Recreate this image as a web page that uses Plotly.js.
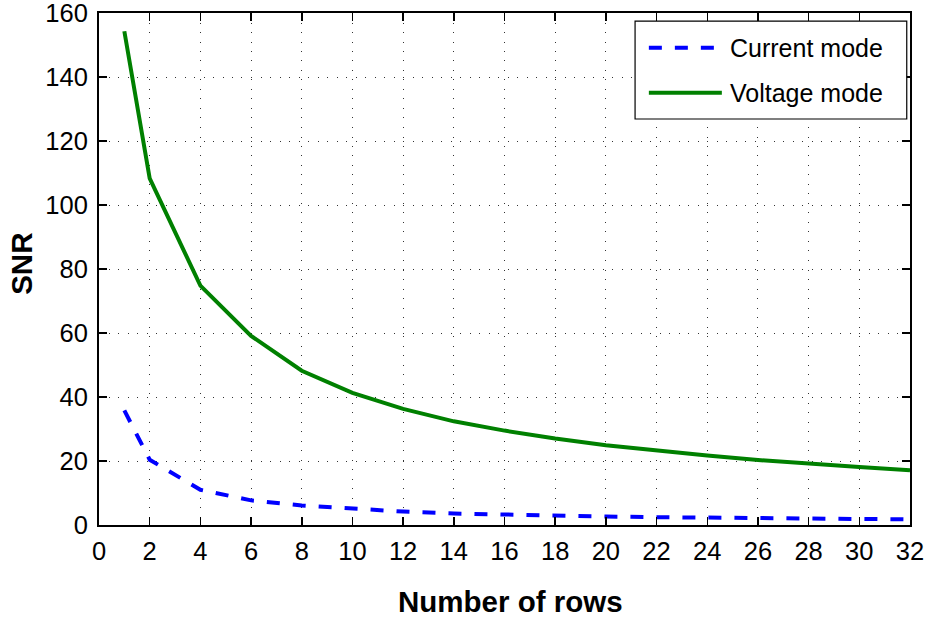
<!DOCTYPE html>
<html>
<head>
<meta charset="utf-8">
<script src="https://cdn.plot.ly/plotly-3.0.1.min.js"></script>
<style>html,body{margin:0;padding:0;background:#fff;}#chart{width:926px;height:619px;}</style>
</head>
<body>
<div id="chart"></div>
<script>
const rows = [1, 2, 4, 6, 8, 10, 12, 14, 16, 18, 20, 22, 24, 26, 28, 30, 32];
const currentMode = [35.8, 20.4, 11.0, 7.7, 6.1, 5.0, 4.2, 3.6, 3.2, 2.9, 2.65, 2.45, 2.25, 2.1, 1.95, 1.85, 1.75];
const voltageMode = [154.3, 108.3, 74.8, 59.1, 48.2, 41.3, 36.3, 32.4, 29.5, 27.0, 24.9, 23.2, 21.7, 20.3, 19.1, 18.1, 17.1];
const xTicks = [0,2,4,6,8,10,12,14,16,18,20,22,24,26,28,30,32];
const yTicks = [0,20,40,60,80,100,120,140,160];
const seriesNames = ['Current mode', 'Voltage mode'];
const xTitle = 'Number of rows';
const yTitle = 'SNR';

const FONT = 'Liberation Sans, Arial, sans-serif';
const traces = [
  {x: rows, y: currentMode, name: seriesNames[0], type: 'scatter', mode: 'lines',
   line: {color: '#0000ff', width: 4, dash: '13px,13px'}},
  {x: rows, y: voltageMode, name: seriesNames[1], type: 'scatter', mode: 'lines',
   line: {color: '#008000', width: 4}}
];
const axisCommon = {
  showline: true, linecolor: '#000', linewidth: 2, mirror: 'ticks',
  ticks: 'inside', ticklen: 8, tickwidth: 1.5, tickcolor: '#000',
  showgrid: true, gridcolor: '#333', gridwidth: 1, griddash: '1px,8.5px',
  zeroline: false, ticklabeloverflow: 'allow',
  tickfont: {family: FONT, size: 25.5, color: '#000'}
};
// custom legend (paper coordinates)
const legX0 = 0.661, legX1 = 0.996, legY0 = 0.793, legY1 = 0.984;
const rowY = [0.932, 0.844];
const shapes = [
  {type: 'rect', xref: 'paper', yref: 'paper', x0: legX0, x1: legX1, y0: legY0, y1: legY1,
   line: {color: '#000', width: 1.2}, fillcolor: '#fff', layer: 'above'},
  {type: 'line', xref: 'paper', yref: 'paper', x0: 0.678, x1: 0.768, y0: rowY[0], y1: rowY[0],
   line: {color: '#0000ff', width: 4, dash: '13px,13px'}, layer: 'above'},
  {type: 'line', xref: 'paper', yref: 'paper', x0: 0.678, x1: 0.768, y0: rowY[1], y1: rowY[1],
   line: {color: '#008000', width: 4}, layer: 'above'}
];
const annotations = seriesNames.map((n, i) => ({
  xref: 'paper', yref: 'paper', x: 0.776, y: rowY[i], xanchor: 'left', yanchor: 'middle',
  text: n, showarrow: false, font: {family: FONT, size: 25, color: '#000'}
}));
annotations.push({xref: 'paper', yref: 'paper', x: 0.507, y: -0.149, xanchor: 'center', yanchor: 'middle',
  text: '<b>' + xTitle + '</b>', showarrow: false, font: {family: FONT, size: 29.5, color: '#000'}});
annotations.push({xref: 'paper', yref: 'paper', x: -0.095, y: 0.51, xanchor: 'center', yanchor: 'middle',
  textangle: -90, text: '<b>' + yTitle + '</b>', showarrow: false, font: {family: FONT, size: 29.5, color: '#000'}});
const layout = {
  width: 926, height: 619,
  margin: {l: 99, r: 16, t: 13, b: 94},
  paper_bgcolor: '#fff', plot_bgcolor: '#fff',
  showlegend: false,
  shapes: shapes, annotations: annotations,
  xaxis: Object.assign({}, axisCommon, {
    range: [0, 32], tickvals: xTicks, ticktext: xTicks.map(String), ticklabelstandoff: 2
  }),
  yaxis: Object.assign({}, axisCommon, {
    range: [0, 160.0001], tickvals: yTicks, ticktext: yTicks.map(String), ticklabelstandoff: 4
  })
};
Plotly.newPlot('chart', traces, layout, {displayModeBar: false, staticPlot: true});
</script>
</body>
</html>
